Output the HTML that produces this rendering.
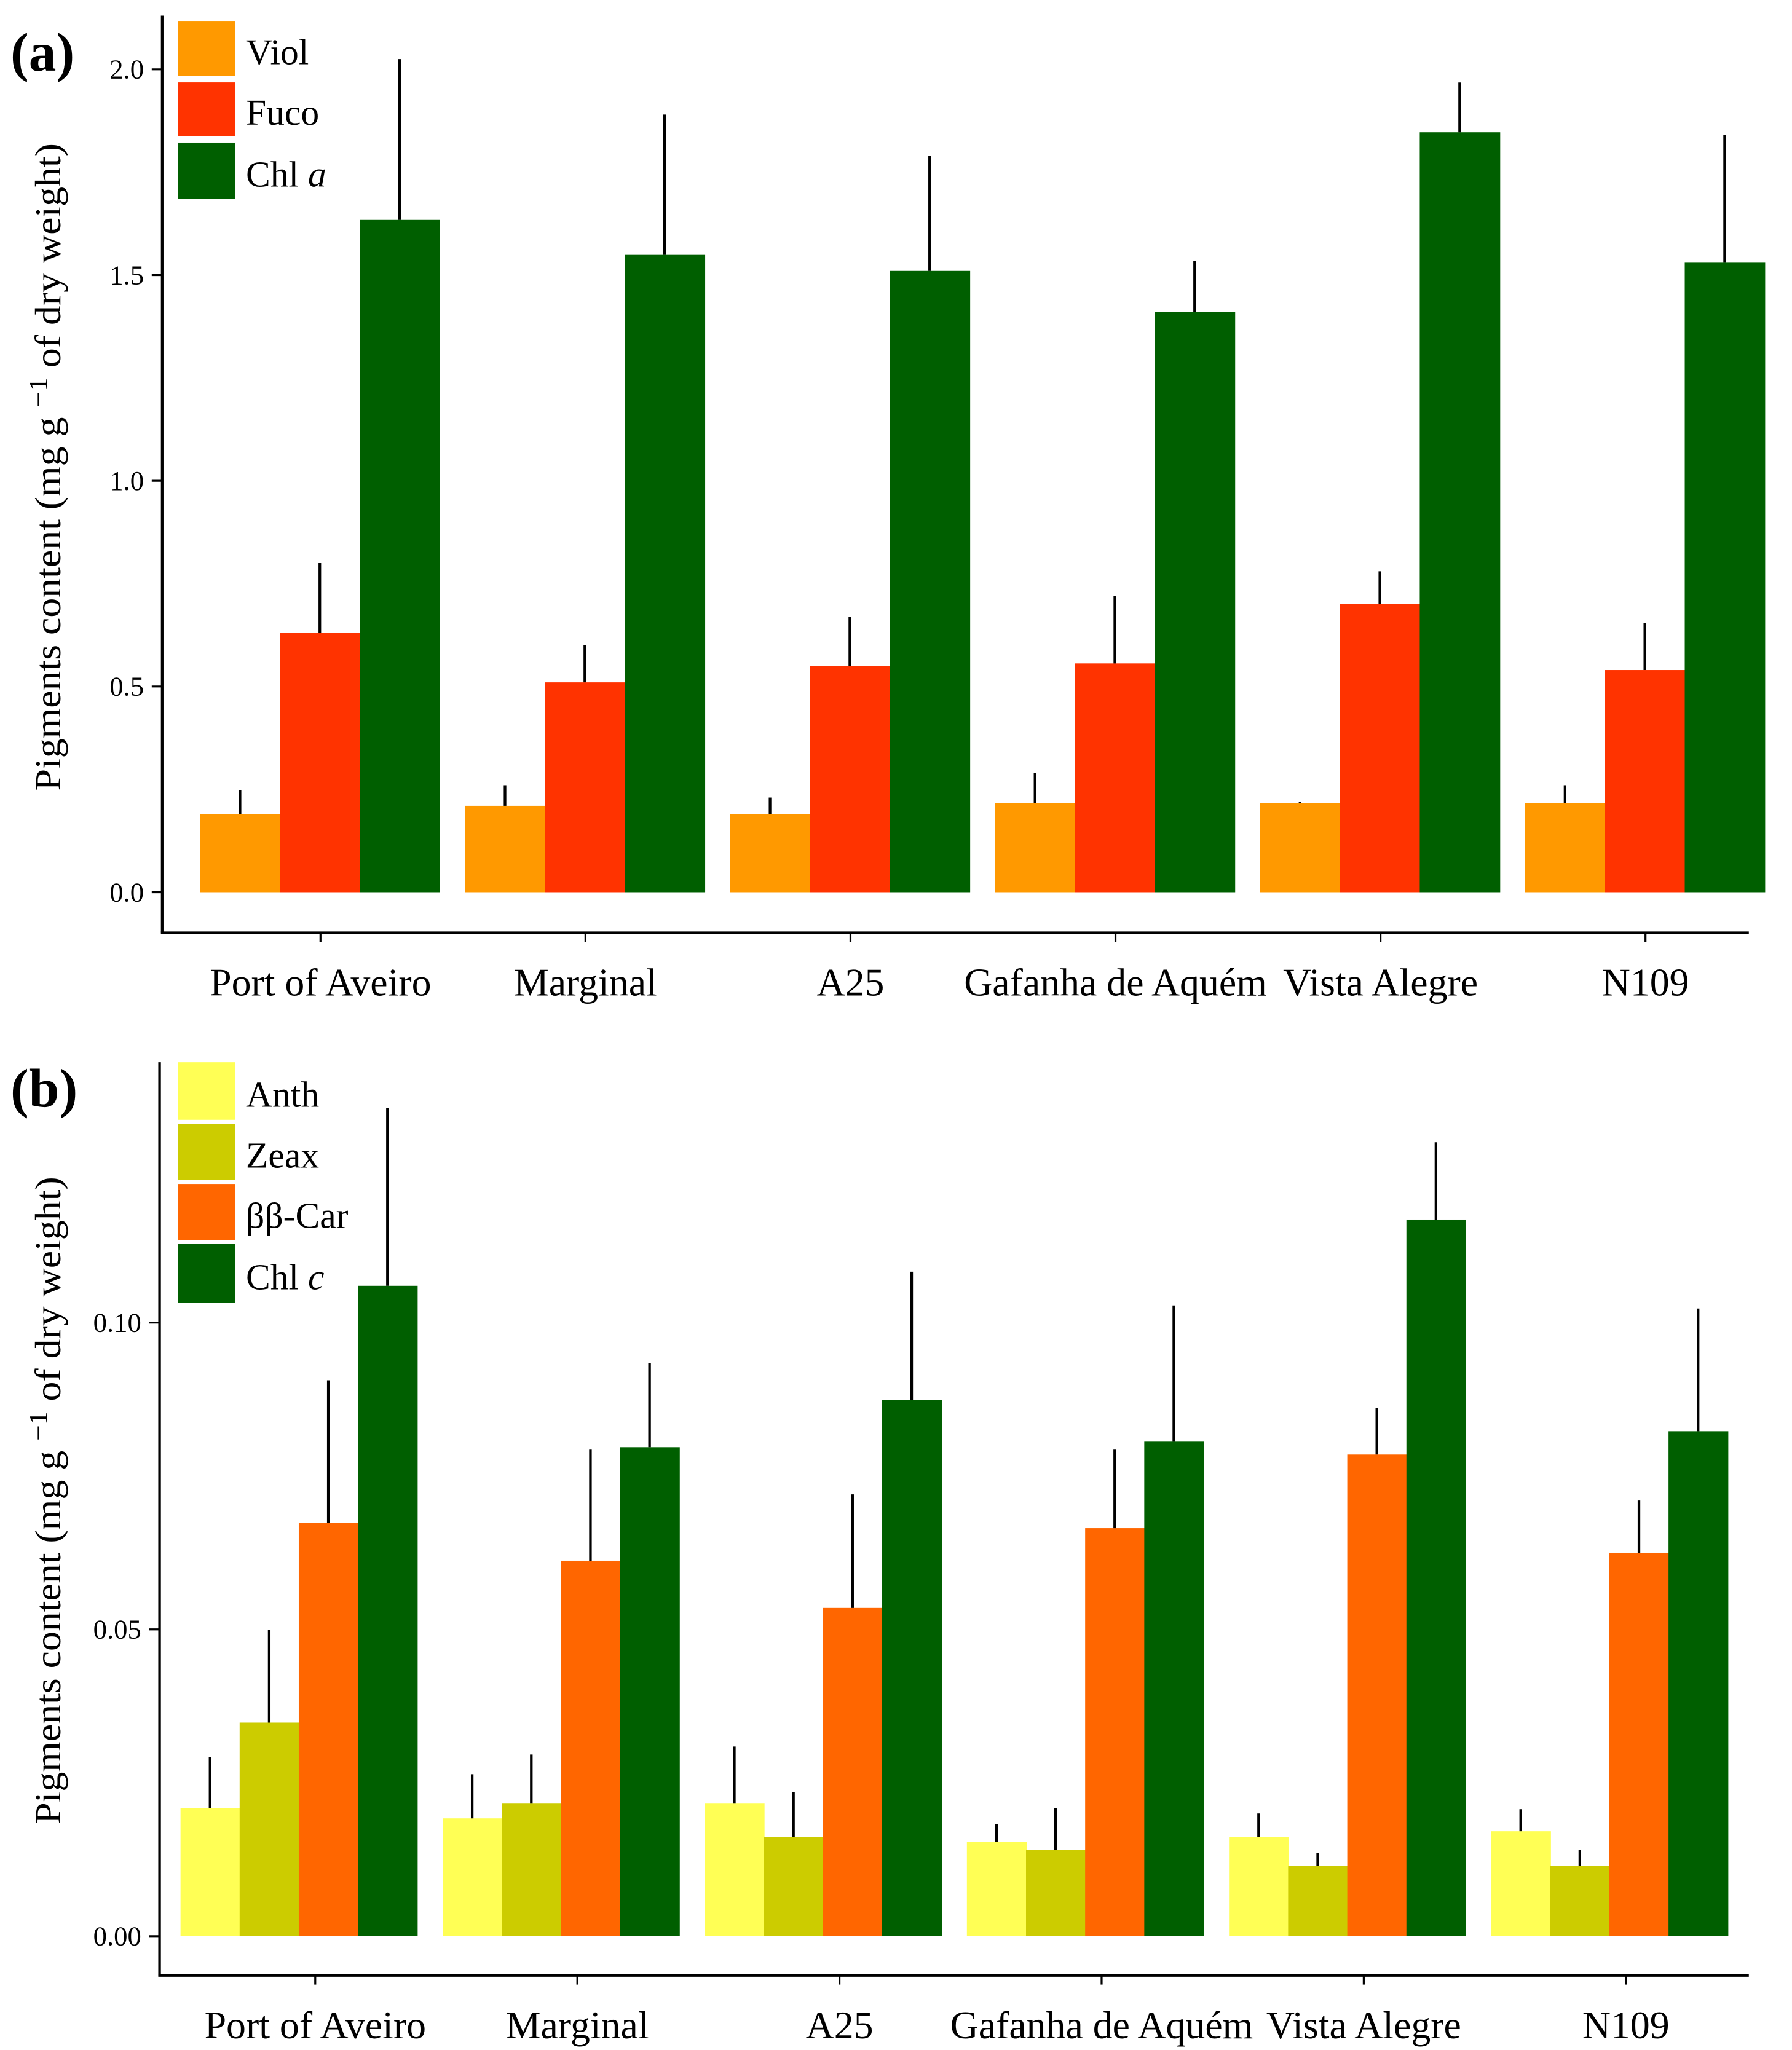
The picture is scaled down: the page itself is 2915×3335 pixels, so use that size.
<!DOCTYPE html>
<html><head><meta charset="utf-8"><style>
html,body{margin:0;padding:0;background:#fff;}
svg{display:block;}
text{font-family:"Liberation Serif",serif;fill:#000;}
</style></head><body>
<svg id="chart" width="2915" height="3335" viewBox="0 0 1370 1567" preserveAspectRatio="none" xmlns="http://www.w3.org/2000/svg"></svg>
<script>
const categories = ["Port of Aveiro","Marginal","A25","Gafanha de Aquém","Vista Alegre","N109"];
// Panel (a)
const seriesA = ["Viol","Fuco","Chl a"];
const violVals = [0.19,0.21,0.19,0.216,0.216,0.216];
const violErr  = [0.248,0.26,0.23,0.29,0.22,0.26];
const fucoVals = [0.63,0.51,0.55,0.556,0.70,0.54];
const fucoErr  = [0.80,0.60,0.67,0.72,0.78,0.655];
const chlaVals = [1.634,1.549,1.51,1.41,1.847,1.53];
const chlaErr  = [2.025,1.89,1.79,1.535,1.968,1.84];
const ticksA = [0,0.5,1.0,1.5,2.0];
const tickLabelsA = ["0.0","0.5","1.0","1.5","2.0"];
// Panel (b)
const seriesB = ["Anth","Zeax","ββ-Car","Chl c"];
const anthVals = [0.0209,0.0192,0.0217,0.0154,0.0162,0.0171];
const anthErr  = [0.0292,0.0264,0.0309,0.0183,0.020,0.0207];
const zeaxVals = [0.0348,0.0217,0.0162,0.0141,0.0115,0.0115];
const zeaxErr  = [0.0499,0.0296,0.0235,0.0209,0.0136,0.0141];
const carVals  = [0.0674,0.0612,0.0535,0.0665,0.0785,0.0625];
const carErr   = [0.0906,0.0793,0.072,0.0793,0.0861,0.071];
const chlcVals = [0.106,0.0797,0.0874,0.0806,0.1168,0.0823];
const chlcErr  = [0.135,0.0934,0.1083,0.1028,0.1294,0.1023];
const ticksB = [0,0.05,0.10];
const tickLabelsB = ["0.00","0.05","0.10"];

const NS="http://www.w3.org/2000/svg";
const svg=document.getElementById('chart');
function mk(tag,attrs,parent){const e=document.createElementNS(NS,tag);for(const k in attrs)e.setAttribute(k,attrs[k]);(parent||svg).appendChild(e);return e;}

function panel(cfg){
  const g=mk('g',{});
  
  
  const y=v=>cfg.y0-(v-0)*cfg.scale;
  const x=(i,s)=>cfg.gx0+i*cfg.gstep+s*cfg.bw;
  cfg.series.forEach((s,si)=>{
    s.vals.forEach((v,i)=>{
      const r=mk('rect',{x:x(i,si),y:y(v),width:cfg.bw+0.5,height:y(0)-y(v),fill:s.color},g);
      
      
      const l=mk('line',{x1:x(i,si)+cfg.bw/2,x2:x(i,si)+cfg.bw/2,y1:y(v),y2:y(s.err[i]),stroke:'#000','stroke-width':2},g);
      
      
    });
  });
  const ya=mk('line',{x1:cfg.ax,x2:cfg.ax,y1:cfg.top,y2:cfg.base,stroke:'#000','stroke-width':2},g);
  
  
  const xa=mk('line',{x1:cfg.ax-1,x2:1337,y1:cfg.base,y2:cfg.base,stroke:'#000','stroke-width':2},g);
  
  
  cfg.ticks.forEach((t,i)=>{
    mk('line',{x1:cfg.ax-8,x2:cfg.ax,y1:y(t),y2:y(t),stroke:'#000','stroke-width':1.5},g);
    const tx=mk('text',{x:cfg.ax-14,y:y(t)+7,'text-anchor':'end','font-size':21},g);
    tx.textContent=cfg.tickLabels[i];
    
    
  });
  categories.forEach((c,i)=>{
    const cx=cfg.gx0+i*cfg.gstep+cfg.tickOff;
    mk('line',{x1:cx,x2:cx,y1:cfg.base,y2:cfg.base+7,stroke:'#000','stroke-width':1.5},g);
    const tx=mk('text',{x:cx,y:cfg.base+48,'text-anchor':'middle','font-size':30},g);
    tx.textContent=c;
    
    
  });
  const yt=mk('text',{x:0,y:0,'text-anchor':'middle','font-size':28,textLength:495,lengthAdjust:'spacingAndGlyphs',transform:`translate(46,${cfg.titleY}) rotate(-90)`},g);
  yt.innerHTML='Pigments content (mg g <tspan dy="-10" font-size="20">−1</tspan><tspan dy="10"> of dry weight)</tspan>';
  
  
  const pl=mk('text',{x:8,y:cfg.labelY,'font-size':42,'font-weight':'bold'},g);
  pl.textContent=cfg.label;
  
  
  cfg.series.forEach((s,si)=>{
    const r=mk('rect',{x:136,y:cfg.legY[si][0],width:44,height:cfg.legY[si][1]-cfg.legY[si][0],fill:s.color},g);
    
    
    const t=mk('text',{x:188,y:(cfg.legY[si][0]+cfg.legY[si][1])/2+12,'font-size':28},g);
    t.innerHTML=s.label;
    
    
  });
}

panel({name:'panel-a',label:'(a)',labelY:54,y0:682,scale:314.5,gx0:153,gstep:202.6,bw:61,tickOff:92,
  ax:124,top:12,base:713,titleY:357,ticks:ticksA,tickLabels:tickLabelsA,
  legY:[[16,58],[63,104],[109,152]],
  series:[
    {key:'viol',label:seriesA[0],color:'#FF9900',vals:violVals,err:violErr},
    {key:'fuco',label:seriesA[1],color:'#FF3300',vals:fucoVals,err:fucoErr},
    {key:'chla',label:'Chl <tspan font-style="italic">a</tspan>',color:'#005F00',vals:chlaVals,err:chlaErr}
  ]});
panel({name:'panel-b',label:'(b)',labelY:846,y0:1480,scale:4690,gx0:138,gstep:200.4,bw:45.2,tickOff:103,
  ax:122,top:812,base:1510,titleY:1147,ticks:ticksB,tickLabels:tickLabelsB,
  legY:[[812,856],[859,902],[905,948],[951,996]],
  series:[
    {key:'anth',label:seriesB[0],color:'#FFFF55',vals:anthVals,err:anthErr},
    {key:'zeax',label:seriesB[1],color:'#CCCC00',vals:zeaxVals,err:zeaxErr},
    {key:'car',label:seriesB[2],color:'#FF6600',vals:carVals,err:carErr},
    {key:'chlc',label:'Chl <tspan font-style="italic">c</tspan>',color:'#005F00',vals:chlcVals,err:chlcErr}
  ]});
</script>
</body></html>
